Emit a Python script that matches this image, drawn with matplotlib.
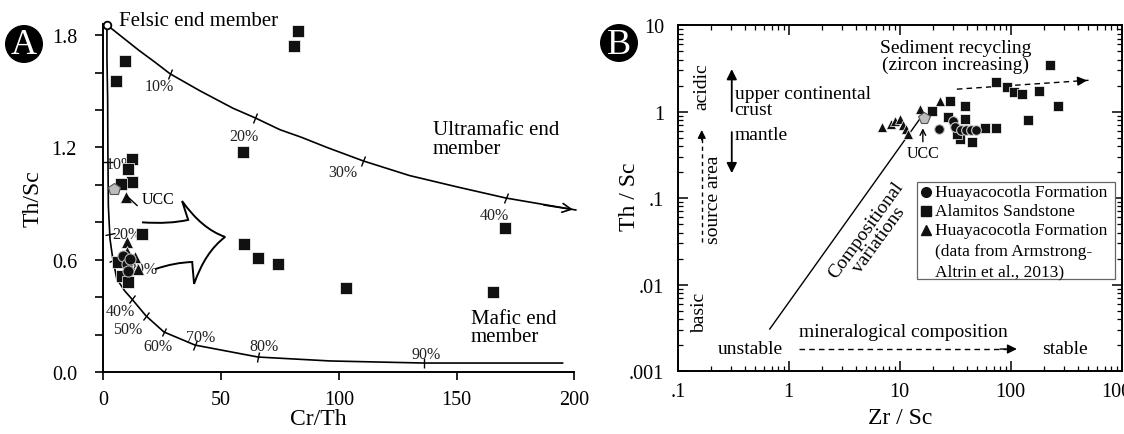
#!/usr/bin/env python
#
# plot.py - Th/Sc vs Cr/Th mixing diagram and Th/Sc vs Zr/Sc
#

import numpy as np
import matplotlib.pyplot as plt
from matplotlib.markers import MarkerStyle
from matplotlib.path import Path
from matplotlib.patches import PathPatch, Ellipse, Rectangle
from matplotlib.transforms import Affine2D

plt.rcParams['font.family'] = ['Liberation Serif', 'DejaVu Serif']

# ---- panel A data (Cr/Th, Th/Sc) ----
a_sq_x = [9.2, 5.3, 82.8, 81.1, 59.4, 12.0, 10.6, 12.3, 7.4, 16.3, 6.3, 7.7, 10.6,
          59.8, 65.7, 74.3, 103.2, 165.3, 170.4]
a_sq_y = [1.663, 1.556, 1.823, 1.743, 1.176, 1.139, 1.086, 1.018, 1.005, 0.738,
          0.587, 0.515, 0.480, 0.684, 0.610, 0.578, 0.449, 0.428, 0.770]
a_ci_x = [8.4, 9.9, 11.3, 10.6]
a_ci_y = [0.622, 0.578, 0.604, 0.542]
a_tr_x = [9.4, 9.9, 9.9, 13.4, 14.8]
a_tr_y = [0.934, 0.694, 0.640, 0.613, 0.551]
a_ucc = (4.6, 0.979)
felsic = (1.5, 1.855)

# mixing curves
upper_x = [1.5, 8, 15, 22, 28.3, 41, 55, 64.5, 75, 84, 95, 110.4, 130, 150, 170.9, 200.6]
upper_y = [1.855, 1.79, 1.72, 1.655, 1.594, 1.503, 1.41, 1.358, 1.295, 1.255, 1.2,
           1.128, 1.05, 0.99, 0.93, 0.866]
lower_x = [1.5, 1.5, 1.8, 1.9, 2.1, 2.8, 4.0, 5.7, 9.1, 12.1, 18.1, 25.7, 38.9,
           65.7, 96.4, 136, 195]
lower_y = [1.855, 1.674, 1.46, 1.19, 0.888, 0.711, 0.604, 0.497, 0.433, 0.39, 0.30,
           0.214, 0.144, 0.080, 0.059, 0.048, 0.048]

upper_ticks_x = [28.3, 64.5, 110.4, 170.9]
upper_ticks_y = [1.594, 1.358, 1.128, 0.93]
upper_labels = ['10%', '20%', '30%', '40%']
upper_lab_x = [23.7, 59.5, 101.5, 166]
upper_lab_y = [1.53, 1.26, 1.07, 0.84]

lower_ticks_x = [1.9, 2.6, 4.0, 12.1, 18.1, 25.7, 38.9, 65.7, 136]
lower_ticks_y = [1.12, 0.74, 0.60, 0.39, 0.30, 0.214, 0.144, 0.080, 0.048]
lower_tick_rot = [-85, -80, -60, -40, -35, -30, -20, -10, 0]
lower_labels = ['10%', '20%', '30%', '40%', '50%', '60%', '70%', '80%', '90%']
lower_lab_x = [7.0, 9.9, 16.8, 7.0, 10.4, 23.2, 41.1, 68.3, 137.2]
lower_lab_y = [1.11, 0.735, 0.551, 0.326, 0.23, 0.139, 0.187, 0.139, 0.096]

# ---- panel B data (Zr/Sc, Th/Sc) ----
b_ci_x = [22.4, 30.0, 31.3, 35.5, 39.4, 43.6, 48.4]
b_ci_y = [0.628, 0.776, 0.662, 0.61, 0.61, 0.61, 0.61]
b_sq_x = [224, 73.3, 92, 106, 126, 179, 265, 142, 28.2, 38.5, 19.4, 27, 38.5,
          58.3, 73.3, 34.7, 44.6, 32.7]
b_sq_y = [3.45, 2.19, 1.92, 1.68, 1.59, 1.73, 1.16, 0.80, 1.32, 1.16, 1.01, 0.86,
          0.82, 0.64, 0.64, 0.48, 0.44, 0.55]
b_tr_x = [6.9, 8.3, 9.0, 10.0, 10.6, 11.3, 11.8, 15.1, 22.9]
b_tr_y = [0.662, 0.715, 0.776, 0.818, 0.698, 0.629, 0.549, 1.07, 1.32]
b_ucc = (16.5, 0.85)
comp_line_x = [0.674, 15.8]
comp_line_y = [0.00306, 0.887]
recycle_x = [32.7, 515]
recycle_y = [1.82, 2.31]

b_xticks = [0.1, 1, 10, 100, 1000]
b_xlabels = ['.1', '1', '10', '100', '1000']
b_yticks = [0.001, 0.01, 0.1, 1, 10]
b_ylabels = ['.001', '.01', '.1', '1', '10']


def tick_marker(angle):
    return MarkerStyle('|', transform=Affine2D().rotate_deg(angle))


fig = plt.figure(figsize=(11.24, 4.35), dpi=100)

# =================== panel A ===================
ax = fig.add_axes([0.092, 0.1425, 0.419, 0.8])
ax.set_xlim(0, 200)
ax.set_ylim(0, 1.86)
for s in ['top', 'right']:
    ax.spines[s].set_visible(False)
for s in ['left', 'bottom']:
    ax.spines[s].set_linewidth(1.4)
ax.set_xticks([0, 50, 100, 150, 200])
yt = np.round(np.arange(0, 1.81, 0.2), 1)
ax.set_yticks(yt)
ax.set_yticklabels(['%.1f' % v if abs(v / 0.6 - round(v / 0.6)) < 1e-6 else '' for v in yt])
ax.tick_params(axis='y', direction='out', length=6, width=1.2, pad=13, labelsize=14.5)
ax.tick_params(axis='x', direction='out', length=6, width=1.2, pad=7, labelsize=14.5)
ax.set_xlabel('Cr/Th', fontsize=17)
ax.set_ylabel('Th/Sc', fontsize=17)
ax.xaxis.set_label_coords(0.457, -0.104)
ax.yaxis.set_label_coords(-0.128, 0.5)

ax.plot(upper_x, upper_y, color='k', lw=1.2, clip_on=False, zorder=2)
ax.plot(lower_x, lower_y, color='k', lw=1.2, clip_on=False, zorder=2)
ax.annotate('', xy=(upper_x[-1], upper_y[-1]), xytext=(upper_x[-2] + 15, 0.895),
            arrowprops=dict(arrowstyle='->', lw=1.2, color='k', mutation_scale=16),
            annotation_clip=False)
for x, y in zip(upper_ticks_x, upper_ticks_y):
    ax.plot(x, y, marker=tick_marker(-25), ms=8, mew=1, color='k', zorder=2)
for x, y, r in zip(lower_ticks_x, lower_ticks_y, lower_tick_rot):
    ax.plot(x, y, marker=tick_marker(r), ms=7, mew=1, color='k', zorder=2)
for t, x, y in zip(upper_labels, upper_lab_x, upper_lab_y):
    ax.text(x, y, t, fontsize=11.5, ha='center', va='center', color='#222222', zorder=2)
for t, x, y in zip(lower_labels, lower_lab_x, lower_lab_y):
    ax.text(x, y, t, fontsize=11.5, ha='center', va='center', color='#222222', zorder=2)

ax.plot(*felsic, 'o', ms=5.5, mfc='white', mec='k', mew=1.3, clip_on=False, zorder=5)
ax.text(6.6, 1.88, 'Felsic end member', fontsize=15, va='center', ha='left')
ax.text(139.8, 1.245, 'Ultramafic end\nmember', fontsize=15, va='center',
        ha='left', linespacing=0.95)
ax.text(156, 0.238, 'Mafic end\nmember', fontsize=15, va='center', ha='left',
        linespacing=0.95)

# hollow arrow
verts = [(16.4, 0.80), (28, 0.79), (36.0, 0.813), (33.4, 0.914),
         (41.8, 0.765), (51.7, 0.722), (43.2, 0.642), (38.5, 0.471),
         (37.7, 0.588), (30, 0.585), (22, 0.55)]
codes = [Path.MOVETO, Path.CURVE3, Path.CURVE3, Path.LINETO,
         Path.CURVE3, Path.CURVE3, Path.CURVE3, Path.CURVE3,
         Path.LINETO, Path.CURVE3, Path.CURVE3]
ax.add_patch(PathPatch(Path(verts, codes), fc='none', ec='k', lw=1.4, zorder=3))

ax.plot(a_sq_x, a_sq_y, 's', ms=8.6, mfc='#111111', mec='white', mew=0.5, ls='none', zorder=4)
ax.plot(a_tr_x, a_tr_y, '^', ms=8.5, mfc='#111111', mec='white', mew=0.5, ls='none', zorder=4)
ax.plot(a_ci_x, a_ci_y, 'o', ms=8, mfc='#111111', mec='#bbbbbb', mew=0.8, ls='none', zorder=4)
ax.plot(*a_ucc, 'p', ms=9, mfc='#bdbdbd', mec='#555555', mew=0.8, zorder=5)
ax.plot([10, 14.3], [0.94, 0.89], color='k', lw=1, zorder=4)
ax.text(16.4, 0.925, 'UCC', fontsize=11.5, va='center', ha='left')

# =================== panel B ===================
bx = fig.add_axes([0.603, 0.1448, 0.395, 0.795])
bx.set_xscale('log')
bx.set_yscale('log')
bx.set_xlim(0.1, 1000)
bx.set_ylim(0.001, 10)
for s in bx.spines.values():
    s.set_linewidth(1.4)
bx.set_xticks(b_xticks)
bx.set_xticklabels(b_xlabels)
bx.set_yticks(b_yticks)
bx.set_yticklabels(b_ylabels)
bx.tick_params(which='major', direction='in', length=7, width=1.1, top=True, right=True,
               labelsize=14.5)
bx.tick_params(which='minor', direction='in', length=3.5, width=0.9, top=True, right=True)
bx.tick_params(axis='x', pad=8)
bx.tick_params(axis='y', pad=10)
bx.set_xlabel('Zr / Sc', fontsize=17)
bx.set_ylabel('Th / Sc', fontsize=17)
bx.xaxis.set_label_coords(0.5, -0.104)
bx.yaxis.set_label_coords(-0.085, 0.506)

bx.plot(comp_line_x, comp_line_y, color='k', lw=1, zorder=2)
bx.plot(recycle_x, recycle_y, color='k', lw=1, ls=(0, (4, 3)), zorder=2)
bx.annotate('', xy=(recycle_x[1], recycle_y[1]), xytext=(380, 2.24),
            arrowprops=dict(arrowstyle='-|>', lw=1, color='k', mutation_scale=14))

bx.plot(b_sq_x, b_sq_y, 's', ms=6.6, mfc='#111111', mec='white', mew=0.5, ls='none', zorder=4)
bx.plot(b_tr_x, b_tr_y, '^', ms=7.5, mfc='#111111', mec='white', mew=0.5, ls='none', zorder=4)
bx.plot(b_ci_x, b_ci_y, 'o', ms=7, mfc='#111111', mec='#cccccc', mew=0.8, ls='none', zorder=4)
bx.plot(*b_ucc, 'p', ms=8.5, mfc='#bdbdbd', mec='#555555', mew=0.8, zorder=5)

T = bx.transAxes
bx.text(0.626, 0.91, 'Sediment recycling\n(zircon increasing)', transform=T, fontsize=14,
        ha='center', va='center', linespacing=1.0)
bx.text(0.128, 0.78, 'upper continental\ncrust', transform=T, fontsize=14,
        ha='left', va='center', linespacing=0.95)
bx.text(0.128, 0.685, 'mantle', transform=T, fontsize=14, ha='left', va='center')
bx.annotate('', xy=(0.1216, 0.881), xytext=(0.1216, 0.743), xycoords=T, textcoords=T,
            arrowprops=dict(arrowstyle='-|>', lw=1.3, color='k', mutation_scale=15))
bx.annotate('', xy=(0.1216, 0.564), xytext=(0.1216, 0.699), xycoords=T, textcoords=T,
            arrowprops=dict(arrowstyle='-|>', lw=1.3, color='k', mutation_scale=15))
bx.text(0.054, 0.824, 'acidic', transform=T, fontsize=14, rotation=90, ha='center', va='center')
bx.text(0.05, 0.17, 'basic', transform=T, fontsize=14, rotation=90, ha='center', va='center')
bx.text(0.081, 0.497, 'source area', transform=T, fontsize=14, rotation=90,
        ha='center', va='center')
bx.plot([0.054, 0.054], [0.373, 0.68], transform=T, color='k', lw=1, ls=(0, (3, 2.5)))
bx.annotate('', xy=(0.054, 0.705), xytext=(0.054, 0.66), xycoords=T, textcoords=T,
            arrowprops=dict(arrowstyle='-|>', lw=1, color='k', mutation_scale=12))
bx.text(0.439, 0.396, 'Compositional\nvariations', transform=T, fontsize=14, rotation=54,
        ha='center', va='center', rotation_mode='anchor', linespacing=0.95)
bx.text(0.509, 0.113, 'mineralogical composition', transform=T, fontsize=14,
        ha='center', va='center')
bx.plot([0.2725, 0.74], [0.0636, 0.0636], transform=T, color='k', lw=1, ls=(0, (4, 3)))
bx.annotate('', xy=(0.770, 0.0636), xytext=(0.72, 0.0636), xycoords=T, textcoords=T,
            arrowprops=dict(arrowstyle='-|>', lw=1, color='k', mutation_scale=14))
bx.text(0.236, 0.064, 'unstable', transform=T, fontsize=14, ha='right', va='center')
bx.text(0.82, 0.064, 'stable', transform=T, fontsize=14, ha='left', va='center')
bx.text(0.552, 0.63, 'UCC', transform=T, fontsize=11.5, ha='center', va='center')
bx.annotate('', xy=(0.552, 0.71), xytext=(0.552, 0.655), xycoords=T, textcoords=T,
            arrowprops=dict(arrowstyle='->', lw=1, color='k', mutation_scale=10))

# legend drawn by hand
bx.add_patch(Rectangle((0.538, 0.266), 0.446, 0.28, transform=T, fc='white',
                       ec='#666666', lw=0.9, zorder=6))
leg_y = [0.517, 0.462, 0.408]
leg_mk = ['o', 's', '^']
leg_txt = ['Huayacocotla Formation', 'Alamitos Sandstone', 'Huayacocotla Formation']
for y, m, t in zip(leg_y, leg_mk, leg_txt):
    bx.plot(0.559, y, m, ms=7, color='#111111', transform=T, clip_on=False, zorder=7)
    bx.text(0.579, y, t, transform=T, fontsize=12.5, ha='left', va='center', zorder=7)
bx.text(0.579, 0.347, '(data from Armstrong-', transform=T, fontsize=12.5,
        ha='left', va='center', zorder=7)
bx.text(0.579, 0.289, 'Altrin et al., 2013)', transform=T, fontsize=12.5,
        ha='left', va='center', zorder=7)

# panel letters
for cx, cy, lab in [(24, 45, 'A'), (619, 44, 'B')]:
    fig.patches.append(Ellipse((cx / 1124, 1 - cy / 435), 38 / 1124, 38 / 435,
                               transform=fig.transFigure, fc='black', ec='none'))
    fig.text(cx / 1124, 1 - (cy + 1) / 435, lab, color='white', fontsize=26,
             ha='center', va='center')

plt.savefig('out.png', dpi=100)
